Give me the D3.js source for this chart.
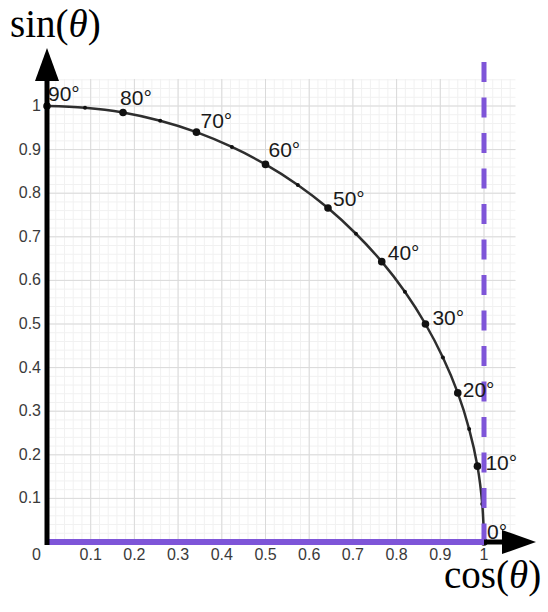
<!DOCTYPE html>
<html>
<head>
<meta charset="utf-8">
<script src="https://cdn.jsdelivr.net/npm/d3@7"></script>
<style>
  html, body { margin: 0; padding: 0; background: #fff; }
  svg { display: block; }
</style>
</head>
<body>
<div id="chart"></div>
<script>
// angle of each dot on the quarter circle (degrees), with its cos / sin
const angles = [0, 5, 10, 15, 20, 25, 30, 35, 40, 45, 50, 55, 60, 65, 70, 75, 80, 85, 90];
const cosValues = [1.000, 0.996, 0.985, 0.966, 0.940, 0.906, 0.866, 0.819, 0.766, 0.707,
                   0.643, 0.574, 0.500, 0.423, 0.342, 0.259, 0.174, 0.087, 0.000];
const sinValues = [0.000, 0.087, 0.174, 0.259, 0.342, 0.423, 0.500, 0.574, 0.643, 0.707,
                   0.766, 0.819, 0.866, 0.906, 0.940, 0.966, 0.985, 0.996, 1.000];
const labelledAngles = [0, 10, 20, 30, 40, 50, 60, 70, 80, 90];
const tickValues = [0.1, 0.2, 0.3, 0.4, 0.5, 0.6, 0.7, 0.8, 0.9, 1];

const width = 548;
const height = 612;
const purple = "#7e55d8";

const svg = d3.select("#chart")
  .append("svg")
  .attr("width", width)
  .attr("height", height);

const x = d3.scaleLinear().domain([0, 1]).range([47, 484]);
const y = d3.scaleLinear().domain([0, 1]).range([542, 106]);

// graph paper
const gridMaxX = 1.072;
const gridMaxY = 1.062;
const minor = d3.range(0, 54).map((i) => i * 0.02);
const grid = svg.append("g");

grid.selectAll(".vminor")
  .data(minor.filter((v) => v <= gridMaxX))
  .join("line")
  .attr("x1", (d) => x(d)).attr("x2", (d) => x(d))
  .attr("y1", y(0)).attr("y2", y(gridMaxY))
  .attr("stroke", "#f1f1f1").attr("stroke-width", 1);

grid.selectAll(".hminor")
  .data(minor.filter((v) => v <= gridMaxY))
  .join("line")
  .attr("y1", (d) => y(d)).attr("y2", (d) => y(d))
  .attr("x1", x(0)).attr("x2", x(gridMaxX))
  .attr("stroke", "#f1f1f1").attr("stroke-width", 1);

grid.selectAll(".vmajor")
  .data(tickValues)
  .join("line")
  .attr("x1", (d) => x(d)).attr("x2", (d) => x(d))
  .attr("y1", y(0)).attr("y2", y(gridMaxY))
  .attr("stroke", "#dadada").attr("stroke-width", 1);

grid.selectAll(".hmajor")
  .data(tickValues)
  .join("line")
  .attr("y1", (d) => y(d)).attr("y2", (d) => y(d))
  .attr("x1", x(0)).attr("x2", x(gridMaxX))
  .attr("stroke", "#dadada").attr("stroke-width", 1);

// tick labels
const tickFont = "'Liberation Sans', Arial, sans-serif";
svg.append("g")
  .selectAll("text")
  .data(tickValues)
  .join("text")
  .attr("x", 41)
  .attr("y", (d) => y(d) + 5)
  .attr("text-anchor", "end")
  .attr("font-family", tickFont)
  .attr("font-size", 16)
  .attr("fill", "#3a3a3a")
  .text((d) => d3.format("~g")(d));

svg.append("g")
  .selectAll("text")
  .data(tickValues)
  .join("text")
  .attr("x", (d) => x(d))
  .attr("y", 560)
  .attr("text-anchor", "middle")
  .attr("font-family", tickFont)
  .attr("font-size", 16)
  .attr("fill", "#3a3a3a")
  .text((d) => d3.format("~g")(d));

svg.append("text")
  .attr("x", 41).attr("y", 560)
  .attr("text-anchor", "end")
  .attr("font-family", tickFont)
  .attr("font-size", 16)
  .attr("fill", "#3a3a3a")
  .text("0");

// the quarter circle
const points = angles.map((a, i) => ({ angle: a, c: cosValues[i], s: sinValues[i] }));

const line = d3.line()
  .x((d) => x(d.c))
  .y((d) => y(d.s))
  .curve(d3.curveCatmullRom);

svg.append("path")
  .datum(points)
  .attr("d", line)
  .attr("fill", "none")
  .attr("stroke", "#2e2e2e")
  .attr("stroke-width", 2.5);

svg.append("g")
  .selectAll("circle")
  .data(points)
  .join("circle")
  .attr("cx", (d) => x(d.c))
  .attr("cy", (d) => y(d.s))
  .attr("r", (d) => (labelledAngles.includes(d.angle) ? 3.8 : 2))
  .attr("fill", "#111");

// vertical dashed line at cos = 1
svg.append("line")
  .attr("x1", x(1)).attr("x2", x(1))
  .attr("y1", 62).attr("y2", y(0))
  .attr("stroke", purple)
  .attr("stroke-width", 5)
  .attr("stroke-dasharray", "20 15.5");

// angle labels, nudged the way the source placed them
const labelNudge = {
  0: [3, -3], 10: [8, 4], 20: [5, 4], 30: [7, 1], 40: [6, -2],
  50: [5, -2], 60: [3, -7], 70: [4, -4], 80: [-3, -8], 90: [1, -5]
};
svg.append("g")
  .selectAll("text")
  .data(points.filter((d) => labelledAngles.includes(d.angle)))
  .join("text")
  .attr("x", (d) => x(d.c) + labelNudge[d.angle][0])
  .attr("y", (d) => y(d.s) + labelNudge[d.angle][1])
  .attr("font-family", tickFont)
  .attr("font-size", 21)
  .attr("fill", "#1a1a1a")
  .text((d) => `${d.angle}°`);

// axes with arrows
svg.append("line")
  .attr("x1", x(0)).attr("x2", 503)
  .attr("y1", y(0)).attr("y2", y(0))
  .attr("stroke", "#000").attr("stroke-width", 5);

svg.append("line")
  .attr("x1", x(0)).attr("x2", x(1))
  .attr("y1", y(0)).attr("y2", y(0))
  .attr("stroke", purple).attr("stroke-width", 6);

svg.append("line")
  .attr("x1", x(0)).attr("x2", x(0))
  .attr("y1", y(0) + 3).attr("y2", 80)
  .attr("stroke", "#000").attr("stroke-width", 5);

svg.append("path")
  .attr("d", `M${x(0) - 12},81 L${x(0)},48 L${x(0) + 12},81 Z`)
  .attr("fill", "#000");

svg.append("path")
  .attr("d", `M502,${y(0) - 12} L536,${y(0)} L502,${y(0) + 12} Z`)
  .attr("fill", "#000");

// axis titles
const serif = "'Liberation Serif', 'Times New Roman', serif";
const sinTitle = svg.append("text")
  .attr("x", 10).attr("y", 37)
  .attr("font-family", serif)
  .attr("font-size", 39)
  .attr("fill", "#000");
sinTitle.append("tspan").text("sin(");
sinTitle.append("tspan").attr("font-style", "italic").text("θ");
sinTitle.append("tspan").text(")");

const cosTitle = svg.append("text")
  .attr("x", 444).attr("y", 588)
  .attr("font-family", serif)
  .attr("font-size", 39)
  .attr("fill", "#000");
cosTitle.append("tspan").text("cos(");
cosTitle.append("tspan").attr("font-style", "italic").text("θ");
cosTitle.append("tspan").text(")");
</script>
</body>
</html>
